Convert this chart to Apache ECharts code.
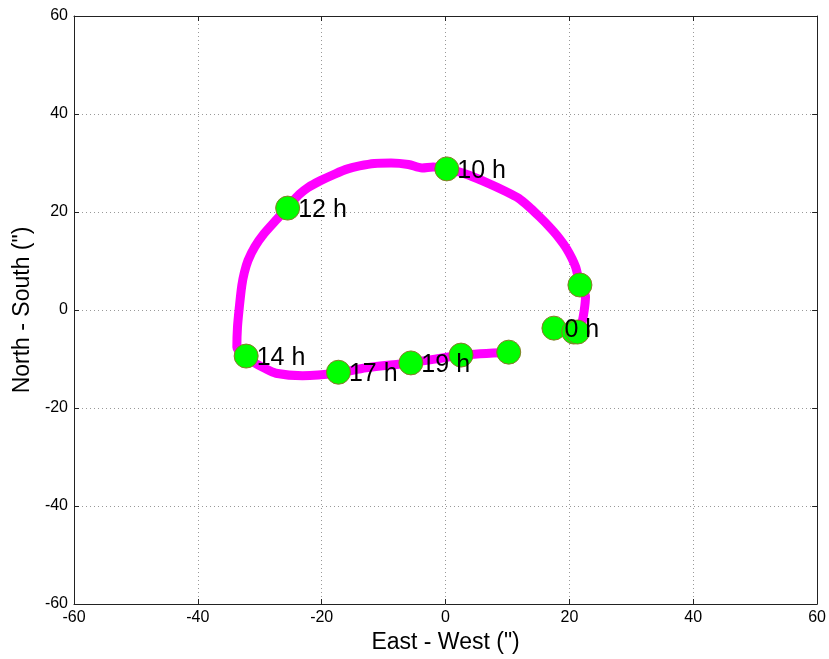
<!DOCTYPE html>
<html>
<head>
<meta charset="utf-8">
<script src="https://cdn.jsdelivr.net/npm/echarts@6/dist/echarts.min.js"></script>
<style>
html,body{margin:0;padding:0;background:#fff;}
#chart{width:829px;height:659px;}
</style>
</head>
<body>
<div id="chart"></div>
<script>
// Trajectory (East-West, North-South) in arcseconds
const pathX = [21.2, 22.0, 22.4, 22.6, 21.7, 21.0, 19.6, 18.0, 16.6, 15.2, 13.7, 11.8, 9.4, 7.0, 3.8, 1.4, 0.1, -2.0, -3.8, -6.0, -8.8, -11.5, -13.9, -15.8, -17.8, -20.2, -22.2, -23.6, -25.5, -27.4, -29.3, -30.8, -31.9, -32.5, -32.9, -33.3, -33.6, -33.7, -32.3, -30.8, -29.2, -27.4, -23.1, -17.6, -12.8, -5.9, -1.0, 2.5, 10.2];
const pathY = [-4.9, -2.7, 0.0, 2.7, 5.1, 8.8, 12.4, 15.2, 17.2, 19.0, 20.8, 22.8, 24.4, 25.8, 27.5, 28.5, 28.9, 29.2, 29.0, 29.7, 30.0, 29.9, 29.4, 28.8, 27.8, 26.4, 25.0, 23.6, 21.0, 18.3, 15.6, 12.9, 10.1, 7.6, 5.0, 0.6, -3.5, -7.6, -9.4, -10.8, -11.9, -12.9, -13.4, -12.9, -11.8, -10.8, -9.9, -9.2, -8.6];

// Hourly markers
const markerX = [0.2, -25.5, -32.2, -17.3, -5.6, 2.5, 10.2, 17.5, 20.7, 21.3, 21.7];
const markerY = [28.8, 20.8, -9.4, -12.7, -10.8, -9.2, -8.6, -3.7, -4.5, -4.5, 5.1];
const markerLabels = ['10 h', '12 h', '14 h', '17 h', '19 h', '', '', '0 h', '', '', ''];

// Axis ticks
const axisMin = -60, axisMax = 60, axisStep = 20;

const FONT = 'Liberation Sans, Arial, Helvetica, sans-serif';

const pathData = pathX.map((x, i) => [x, pathY[i]]);
const markerData = markerX.map((x, i) => ({ value: [x, markerY[i]], label: { show: markerLabels[i] !== '', formatter: markerLabels[i] } }));

function valAxis(pos, main) {
  return {
    type: 'value', position: pos, min: axisMin, max: axisMax, interval: axisStep,
    axisLine: { show: true, onZero: false, lineStyle: { color: '#222', width: 1 } },
    axisTick: { show: true, inside: true, length: 5, lineStyle: { color: '#222' } },
    axisLabel: { show: main, color: '#000', fontSize: 16, fontFamily: FONT, margin: 6 },
    splitLine: { show: main, lineStyle: { color: '#999', type: [1, 3], width: 1 } }
  };
}

const xMain = Object.assign(valAxis('bottom', true), {
  name: 'East - West (")', nameLocation: 'middle', nameGap: 25,
  nameTextStyle: { color: '#000', fontSize: 23, fontFamily: FONT }
});
const yMain = Object.assign(valAxis('left', true), {
  name: 'North - South (")', nameLocation: 'middle', nameGap: 40, nameRotate: 90,
  nameTextStyle: { color: '#000', fontSize: 23, fontFamily: FONT }
});

const chart = echarts.init(document.getElementById('chart'), null, { renderer: 'canvas' });
chart.setOption({
  animation: false,
  backgroundColor: '#fff',
  grid: { left: 74, right: 10, top: 16, bottom: 55 },
  xAxis: [xMain, valAxis('top', false)],
  yAxis: [yMain, valAxis('right', false)],
  series: [
    {
      type: 'line', data: pathData, showSymbol: false, smooth: 0.3,
      lineStyle: { color: '#ff00ff', width: 9, cap: 'round', join: 'round' },
      z: 2
    },
    {
      type: 'scatter', data: markerData, symbol: 'circle', symbolSize: 24,
      itemStyle: { color: '#00ff00', opacity: 1, borderColor: '#8a7a2a', borderWidth: 1 },
      label: { position: 'right', distance: -2, offset: [0, 2], color: '#000', fontSize: 25, fontFamily: FONT },
      emphasis: { disabled: true },
      z: 3
    }
  ]
});
</script>
</body>
</html>
